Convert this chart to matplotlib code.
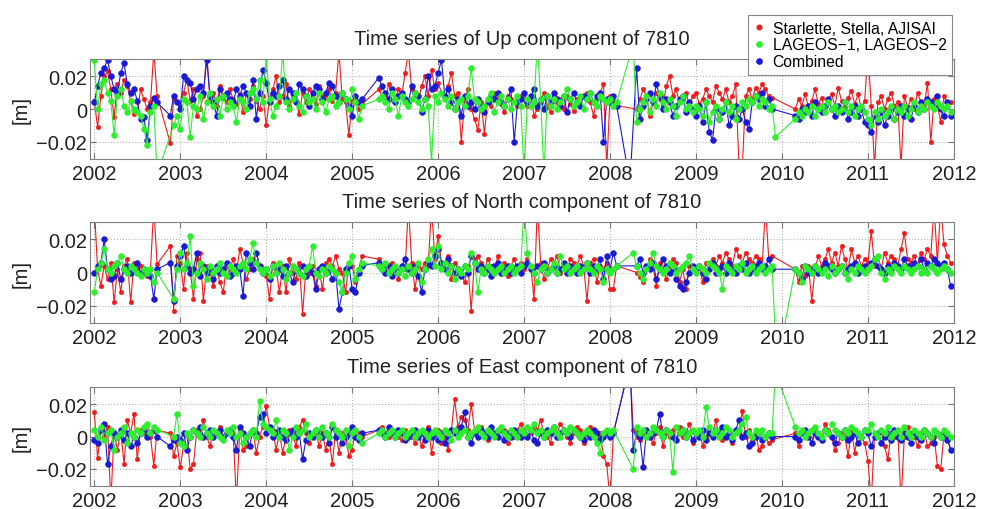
import numpy as np
import matplotlib
matplotlib.use('Agg')
import matplotlib.pyplot as plt
from matplotlib.lines import Line2D

N = None  # no solution for that week

# epochs: one row per year, 26 two-weekly slots; values in mm
years = [2002, 2003, 2004, 2005, 2006, 2007, 2008, 2009, 2010, 2011]
labels = ['Starlette, Stella, AJISAI', 'LAGEOS\u22121, LAGEOS\u22122', 'Combined']
titles = ['Time series of Up component of 7810',
          'Time series of North component of 7810',
          'Time series of East component of 7810']
year_ticks = [2002, 2003, 2004, 2005, 2006, 2007, 2008, 2009, 2010, 2011, 2012]
m_ticks = [-0.02, 0, 0.02]
m_ticklabels = ['\u22120.02', '0', '0.02']

up_red = [
    [5, -11, 8, 20, 23, 12, -5, 15, 10, 18, 14, 5, -3, -2, 12, 6, 0, 4, 35, 8, N, N, N, -21, 6, 4],
    [2, 10, 18, 5, 12, -4, 0, 8, 35, 6, 10, 2, 14, 7, 4, 12, 6, 3, 9, -2, 10, 6, 14, 5, 0, 8],
    [-10, 6, 12, 20, 4, 8, 15, 2, 8, 5, -3, 10, 4, 12, 9, 3, 14, 8, 7, 12, 5, 10, 35, 6, 4, -16],
    [5, 8, 0, 3, N, N, N, N, 12, 8, 4, 15, 10, 6, 12, 8, 22, 35, 12, 9, 5, 14, 20, 8, 24, 12],
    [16, 10, 6, 14, 22, 8, 10, -20, 5, 12, 0, -6, -13, 4, -15, 6, 2, 10, 6, 3, -2, 8, 6, 4, 2, 8],
    [6, 2, 8, -4, 0, 4, 10, 2, -2, 8, 4, 6, 0, 8, 3, -1, 6, 2, 8, 10, 4, -4, 6, 10, 15, -35],
    [8, 5, 2, N, N, N, N, N, 0, 6, 12, 8, -4, 4, 10, 6, 2, 14, 20, 8, 12, 4, 6, 10, 2, 8],
    [10, 3, 6, 12, 8, 4, 14, 10, 6, 12, 4, 8, 15, -35, -35, 8, 12, 6, 13, 10, 15, 12, 8, 7, N, N],
    [N, N, N, N, 0, 6, 2, 9, 1, 5, 12, 3, 7, -2, 5, 9, 2, 13, 5, 1, 7, 11, 3, 9, 0, 5],
    [35, 2, -35, 4, 8, 0, 6, 10, 2, 4, -35, 8, 1, 6, 0, 10, 4, 2, 16, -20, 6, 2, -8, 8, 2, 4],
]
up_blue = [
    [4, 14, 22, 25, 30, 20, 12, 10, 22, 28, 15, 10, 12, 5, -6, -5, -19, 2, 7, 4, N, N, N, -4, 8, 4],
    [0, 20, 18, 16, 6, 12, 14, 10, 30, 8, 4, -4, 12, 8, 10, 6, 4, 12, 8, 14, 10, 2, 18, -6, 10, 24],
    [16, 4, 10, 8, 14, 18, 6, 12, 10, 4, 15, 12, 8, 2, 10, 14, 12, 6, 10, 16, 14, 8, 4, 10, 6, 2],
    [-4, 8, 4, 6, N, N, N, N, 19, 14, 10, 6, 12, 4, 8, 10, 6, 4, 14, 10, 8, -2, 6, 20, 12, 14],
    [22, 30, 8, 12, 4, 0, 6, -4, 8, 2, 4, 0, 6, 2, -2, 4, 8, 6, 10, 4, 2, 6, 12, -20, 4, 6],
    [10, 4, 8, 12, 2, 6, 0, 8, 4, 10, 6, 2, 8, -2, 6, 10, 4, 2, 8, 6, 10, 4, 8, 10, -20, 6],
    [4, 8, 2, N, N, N, -45, N, 25, -6, 2, 6, 10, 4, 15, 8, 0, 6, 4, -4, 2, 6, 8, -2, 4, 0],
    [-4, 2, -8, 4, -14, -19, 0, -6, -2, 4, -10, -4, 2, -6, 0, -8, -12, 4, 8, 6, 10, 2, 6, 0, N, N],
    [N, N, N, N, -4, -6, 0, -2, 2, -4, 4, 0, -2, 2, 6, 0, -4, 2, -2, 4, -6, -2, 2, -4, 0, -8],
    [-10, -14, -4, -8, -2, -10, -4, 0, -6, -2, 2, -4, 0, -6, 2, -2, 4, 0, 6, 4, 2, 8, 0, -4, 4, -4],
]
up_green = [
    [30, 0, 15, 18, 10, 5, -16, 8, 12, 2, -2, 5, 0, -2, -4, -12, -22, -2, 2, -40, N, N, N, N, -10, -4],
    [-12, 6, 4, -17, 2, 0, 8, -6, 4, 10, 2, 6, -4, 8, 0, 4, 2, -8, 6, 4, 0, 10, 12, 6, 18, 4],
    [32, 6, -4, 2, 8, 35, 4, 0, 6, 10, 2, -2, 8, 4, 6, 0, 10, 4, -2, 6, 8, 2, 4, 10, 6, 0],
    [12, 4, -6, 2, N, N, N, N, 6, 8, 4, 0, 10, 6, -4, 8, 4, 2, 6, 10, 4, 0, 6, 2, -32, 8],
    [4, 10, 6, 2, 8, 0, 4, 6, 2, 8, 25, 6, 4, 0, 2, 6, 10, -2, 4, 8, 2, 6, 0, 4, 8, 2],
    [-40, 6, 2, 4, 40, 6, -40, 8, 2, 6, 0, 4, 8, 12, 6, 2, 4, 8, 0, 6, 10, 4, 2, 8, 6, 4],
    [6, 2, 4, N, N, N, N, 40, -8, 0, 4, 8, -2, 6, 2, 10, 4, 0, 6, 2, -4, 4, 8, 0, 2, -2],
    [2, 0, -4, 4, -8, -2, 2, -6, 0, 4, -2, 2, -6, 0, 4, 2, 6, 4, 8, 2, 6, 4, 0, 2, -17, N],
    [N, N, N, N, -6, -2, -4, 0, -2, 2, -4, 0, 2, -2, 4, 0, 2, -2, 0, 4, -2, 2, -4, 0, 2, -2],
    [-6, -10, -2, -6, 0, -4, -2, 2, -6, 0, -2, 2, -4, 0, 4, -2, 2, 0, 4, 2, 0, 4, 2, 0, 2, -2],
]

north_red = [
    [40, 2, -8, 4, -4, 6, -18, 2, -12, 4, 8, -18, 6, 2, 4, 0, -2, 2, 40, 5, N, N, N, 16, -23, 10],
    [6, -10, 12, 2, -16, 8, 12, -17, 4, 0, -8, 2, -6, -12, 4, 2, 8, 0, 14, 6, -4, 2, 8, 12, 4, 0],
    [-2, -16, 6, 2, -12, 4, -12, 8, 0, -4, 6, -25, 2, 0, 4, -8, 2, -10, 6, 8, 4, 10, 2, 0, -12, 6],
    [4, -6, 2, 10, N, N, N, N, 8, 2, 4, 0, 6, 2, -4, 4, 2, 40, 6, -10, 4, 2, 6, 4, 40, 8],
    [22, 6, 2, 10, -4, 6, 2, 0, -6, 4, -23, 8, 10, 6, 2, 8, 4, 0, 10, 2, 6, -2, 4, 8, 2, 6],
    [2, 8, 4, -16, 40, 6, -4, 2, 8, 6, 10, 0, 4, 2, 8, 6, 4, 10, 4, -17, 6, 8, -6, 4, 2, 6],
    [-10, -10, 4, N, N, N, N, N, 0, -3, -6, 2, 8, 4, -8, 6, 2, -4, 4, 8, 6, -6, 2, -10, 4, 2],
    [0, 4, -6, 6, 2, 8, 4, 10, 6, 12, 8, 4, 14, 10, 6, 12, 8, 6, 10, 8, 4, 40, 8, 10, N, N],
    [N, N, N, N, 2, -6, 4, -2, 4, -17, 2, 10, 4, 8, 14, 6, 12, 4, 16, 8, 2, 14, 6, 10, 4, 8],
    [6, 25, 4, 10, 2, 12, 6, 10, 8, 4, 14, 24, 8, 6, 10, 4, 12, 8, 14, 10, 40, 6, 40, 17, 10, 6],
]
north_blue = [
    [0, 4, 6, 20, 2, -4, -2, 6, -4, 2, 4, 0, 2, 6, 0, 2, 0, -2, -16, 2, N, N, N, 6, -17, 4],
    [10, 16, 4, 0, 2, 12, -2, 4, 0, 2, -4, 4, 0, 2, 6, -2, 0, 4, 2, -14, 12, 6, 2, 12, 4, 0],
    [2, -4, 4, 0, 2, -2, 4, 0, -6, 2, 0, 4, -2, 2, 0, -10, 2, 4, 0, 2, -4, 0, -22, -12, 2, 4],
    [-10, -12, 0, 4, N, N, N, N, 6, 2, 0, 4, -2, 2, 0, 4, 8, 2, 0, 4, -2, -12, 2, 6, 4, 10],
    [14, 6, 2, 8, 4, 0, 2, -2, 4, 0, 10, 6, 2, 4, 0, 2, -2, 4, 6, 0, 2, 4, 0, 2, 4, 0],
    [4, 6, 2, 0, 4, 2, 6, 0, 2, 4, 0, 2, 6, 0, 4, 2, 0, 4, 2, 6, 0, 4, 2, 8, -4, 10],
    [2, 12, 4, N, N, N, N, N, 4, 8, 0, 4, 2, 6, -4, 2, 8, 4, 0, 2, -4, -8, -10, -6, 0, 4],
    [2, 4, 0, -4, 2, 6, 0, 2, 4, 0, 6, 2, 0, 4, 2, 6, 0, 2, 4, 6, 2, 4, 8, 2, N, N],
    [N, N, N, N, 2, 0, -4, 4, 0, 2, 4, 0, 2, 6, 4, 2, 0, 2, 4, 0, 2, 4, 6, 0, 2, 4],
    [2, 6, 8, 4, 2, 0, 4, 2, 6, 4, 2, 8, 4, 2, 6, 4, 8, 2, 6, 4, 8, 6, 4, 6, 2, -8],
]
north_green = [
    [-12, 2, 6, 14, 2, 0, 4, 6, 10, 2, 0, 4, 2, 0, -2, 2, 0, 2, -6, 0, N, N, N, N, -16, 2],
    [12, 2, 6, 22, -8, 0, 6, 2, -4, 4, 0, 2, 6, 0, -2, 4, 2, 0, 4, 6, 2, 8, 18, 6, 2, 0],
    [2, -2, 4, 0, 6, 2, -4, 0, 4, 2, 0, -2, 2, 4, 16, 0, -2, 2, 0, 4, 2, 0, -6, -12, 0, 6],
    [10, -4, 2, 6, N, N, N, N, 4, 2, 6, 0, 2, 4, 0, 2, -2, 4, 0, 2, 6, -6, 2, 8, 14, 4],
    [16, 2, 6, 0, 4, -4, 2, 0, 4, 2, 12, 6, -12, 2, 0, 4, 2, 0, 2, 4, 0, 2, 4, 0, 2, 4],
    [40, 12, 4, 0, -6, 2, 4, 0, 2, 6, 0, 10, 2, 4, 0, 2, 4, 0, 2, 6, 2, 0, 4, 2, -6, 2],
    [0, 2, 4, N, N, N, N, 12, 4, 0, -4, 2, 6, 12, 4, 2, 0, 2, 6, 4, 0, 2, 4, 6, 10, 2],
    [0, 4, 2, 0, 6, 4, 2, 0, -10, 4, 2, 0, 4, 2, 6, 0, 2, 4, 0, 2, 4, 0, 2, 4, -40, N],
    [-40, N, N, N, 2, 0, -6, 4, 2, 0, 4, 2, 0, 2, -2, 4, 0, 2, 4, 0, -4, 2, 0, 4, 2, 0],
    [2, 4, 8, 10, 0, -4, 2, 0, 4, 2, 0, 4, 2, 0, 2, 4, 0, 2, 0, 4, 2, 0, 2, 4, 2, 0],
]

east_red = [
    [15, -13, 4, 0, 6, -40, 2, -8, 4, -17, 10, 2, 14, -14, 4, 2, 8, 0, -18, 4, N, N, N, 2, -12, -4],
    [-19, -6, 2, -20, -17, 4, 2, 10, 0, -6, 4, 2, 6, 0, 4, 2, 2, -40, 4, -8, -6, 2, 4, -10, 0, 6],
    [19, 6, 4, -8, 2, -10, 0, 4, 2, -6, 6, 10, 2, -4, 0, 4, -6, 2, -8, 0, -17, 4, -10, 2, 0, -12],
    [-8, 4, 2, 0, N, N, N, N, 4, 6, 2, 0, 4, 2, 0, -2, 4, 2, 0, -4, 2, -6, 0, 6, -10, 2],
    [4, -4, 0, -8, 4, 23, 6, 12, 10, 4, 20, 4, 2, 6, 0, -2, 4, 2, 0, 6, 4, -4, 2, 0, 4, 8],
    [4, 0, 2, 6, 4, 10, 2, 0, -4, 6, 2, 8, 4, 0, -4, 2, 6, 4, -4, 2, 6, 0, -4, 2, -12, -17],
    [-40, 2, N, N, N, N, 45, 4, 0, -2, 2, 4, 0, -4, 2, 6, -6, 2, 0, 4, -2, 6, 0, 2, 8, -4],
    [2, 4, -6, 0, 4, 2, 10, 0, -2, 6, 2, -4, 4, 2, 16, 0, 4, -2, 2, -8, -6, 0, -4, -2, N, N],
    [N, N, N, N, 2, -6, 4, 0, 2, -4, 6, 0, -2, 8, 4, 0, -8, -4, 2, 0, -12, 4, -10, 2, 0, -4],
    [-15, -40, 2, 0, 4, -6, -14, 2, 0, 4, -40, 0, 6, 2, 0, -6, 2, 4, -6, -4, 0, -18, -20, 2, 0, -8],
]
east_blue = [
    [-2, -4, 4, 8, -17, -6, 2, 0, 4, -2, 2, -6, 0, -4, 2, 4, 0, 2, 4, 0, N, N, N, -6, -2, 0],
    [-2, 2, -8, 0, 4, 2, 6, 0, 2, 4, 0, 2, 4, 0, 2, 4, 0, -8, 6, 2, 0, -6, 4, 2, 12, 14],
    [2, 6, 0, 2, 4, 0, -2, 2, 4, 0, 2, -14, -2, 2, 0, 4, 2, 0, 2, -4, 6, 0, 2, -4, 0, 2],
    [6, 0, -2, 2, N, N, N, N, 4, 2, 0, 6, 2, 0, 4, 2, -2, 0, 2, 4, 0, 2, -2, 4, 0, 2],
    [-2, 2, -4, 0, 4, 2, 4, 6, 15, 0, -4, 2, 0, 4, 2, 0, 6, 2, 0, 4, -2, 2, 0, 4, 2, 0],
    [2, 0, 4, -2, -4, 2, 0, 4, 2, 6, 0, 2, 4, 2, 0, 4, 2, 0, -2, 2, 0, 4, 2, -2, 0, 2],
    [0, 2, N, N, N, N, 45, -8, 2, 0, -19, 4, 0, 2, 4, 14, 0, 4, 2, 0, -2, 2, 4, 0, 2, -2],
    [2, 0, 4, -2, 2, 0, 4, 2, 6, 0, 2, -2, 4, 10, 0, 2, -6, -4, 0, 2, -2, 0, 2, 0, N, N],
    [N, N, N, N, 0, -2, 2, 4, 0, -4, 2, 0, -2, 4, 2, 0, -4, 2, 0, 4, -2, 0, 2, -4, 0, 4],
    [2, -6, 0, 2, -4, 0, 2, -2, 4, 0, -2, 2, 0, -4, 2, 0, -2, 4, 2, 0, -4, 2, 0, 2, -2, -8],
]
east_green = [
    [4, 0, 6, -2, 2, 4, -8, 0, 2, 6, -4, 2, 0, 4, 2, 6, 8, 2, 6, 4, N, N, N, N, 0, 14],
    [-4, -6, 2, 0, 4, 2, 0, 6, 2, 0, 4, 2, 0, -2, 4, 2, 6, 0, 2, -4, 0, 2, 4, 0, 22, 8],
    [6, 4, 2, 10, 0, 4, 2, -8, 0, 6, 2, 4, 8, 0, 2, 4, 0, 6, 2, 0, 8, 4, 2, 0, 4, -6],
    [2, 4, 0, -4, N, N, N, N, 2, 4, 0, 2, 4, 0, 2, 4, 0, 2, 4, 0, 2, 4, 2, 0, 2, 4],
    [2, 0, 4, 2, -2, 4, 0, 2, 4, 0, 2, 4, 6, 2, 0, 4, 2, 0, 4, 6, 2, 0, 4, 2, 0, 4],
    [2, 6, 4, 8, 2, 4, 0, 2, 4, 6, 2, 0, 4, 2, 6, 4, 2, 0, 2, 4, 2, 0, -4, -10, 2, 4],
    [2, 4, N, N, N, N, N, -20, 6, 2, 4, 0, 2, 6, 4, 2, 0, 4, 2, -22, 6, 2, 4, 0, 2, 4],
    [2, 4, 0, 18, 6, 2, 4, 0, 2, 6, 4, 0, 2, 4, 8, 12, 2, 0, 4, 2, 4, 0, 2, 2, 40, N],
    [N, N, N, N, 6, 2, 4, 0, 2, 4, 6, 2, 0, 4, 2, 8, 4, 2, 0, 4, 2, 6, 4, 2, 0, 4],
    [4, 8, 2, 0, 4, 2, 6, 0, 2, 4, 0, 6, 2, 0, 4, 2, 0, 4, 2, 0, 4, 2, 0, 4, 2, 0],
]

RED = '#ee1c1c'
GREEN = '#2cee2c'
BLUE = '#1a1ad6'


def to_series(rows):
    # decimal year + metres, skipping empty weeks so the line bridges gaps
    t, v = [], []
    for year, row in zip(years, rows):
        for j, val in enumerate(row):
            if val is not None:
                t.append(year + j / len(row))
                v.append(val / 1000.0)
    return np.array(t), np.array(v)


def draw_panel(ax, title, red, green, blue):
    for rows, col, ms in [(red, RED, 3.3), (blue, BLUE, 4.3), (green, GREEN, 4.3)]:
        t, v = to_series(rows)
        ax.plot(t, v, '-o', color=col, lw=0.8, ms=ms, mec=col, mew=0.3)
    ax.set_xlim(2001.95, 2012.0)
    ax.set_ylim(-0.0305, 0.0305)
    ax.set_xticks(year_ticks)
    ax.set_yticks(m_ticks, labels=m_ticklabels)
    ax.grid(True, linestyle=':', color='#b8b8b8', lw=0.8)
    ax.tick_params(direction='in', top=True, right=True, labelsize=14.5,
                   colors='#777777', labelcolor='#222222', length=4)
    ax.tick_params(axis='x', pad=3.5)
    ax.tick_params(axis='y', pad=2)
    for s in ax.spines.values():
        s.set_color('#808080')
        s.set_linewidth(0.8)
    ax.set_ylabel('[m]', fontsize=14.5, color='#222222', labelpad=4)
    ax.set_title(title, fontsize=14.5, color='#222222', pad=11)


def make_plot():
    plt.rcParams['font.family'] = ['Liberation Sans', 'DejaVu Sans']
    fig = plt.figure(figsize=(9.91, 5.10), dpi=100)
    boxes = [[0.0908, 0.6863, 0.8718, 0.196],
             [0.0908, 0.3647, 0.8718, 0.198],
             [0.0908, 0.0451, 0.8718, 0.194]]
    data = [(up_red, up_green, up_blue),
            (north_red, north_green, north_blue),
            (east_red, east_green, east_blue)]
    for box, title, (r, g, b) in zip(boxes, titles, data):
        ax = fig.add_axes(box)
        draw_panel(ax, title, r, g, b)

    handles = [Line2D([], [], ls='none', marker='o', ms=ms, color=c)
               for c, ms in [(RED, 3.3), (GREEN, 3.8), (BLUE, 3.8)]]
    leg = fig.legend(handles, labels, loc='upper right',
                     bbox_to_anchor=(0.9607, 0.9686), fontsize=11.3,
                     fancybox=False, framealpha=1, edgecolor='#888888',
                     handlelength=0.7, handletextpad=0.5, borderpad=0.35,
                     labelspacing=0.12, borderaxespad=0)
    leg.get_frame().set_linewidth(0.8)
    fig.savefig('out.png', dpi=100)


if __name__ == '__main__':
    make_plot()
